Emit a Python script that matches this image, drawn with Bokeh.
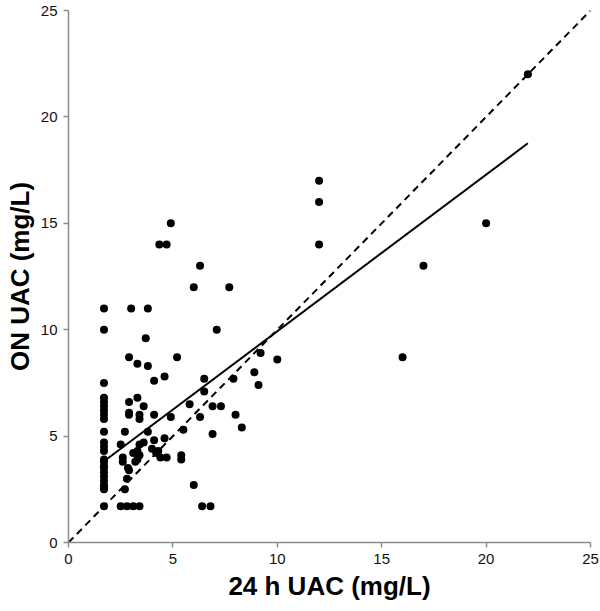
from bokeh.plotting import figure
from bokeh.models import Range1d, ColumnDataSource, FixedTicker
from bokeh.embed import file_html
from bokeh.resources import INLINE

# 24 h UAC (x) vs ON UAC (y), mg/L
x_col = [1.7] * 24
y_col = [11, 10, 7.5, 6.8, 6.6, 6.4, 6.2, 6.0, 5.8, 5.2, 4.7, 4.5, 4.3, 3.9,
         3.8, 3.6, 3.5, 3.3, 3.1, 2.9, 2.7, 2.6, 2.5, 1.7]

x_other = [3.0, 3.8, 3.7, 2.9, 3.3, 3.8, 5.2, 4.1, 4.6,
           4.9, 4.35, 4.7, 6.3, 6.0, 7.7, 7.1,
           9.2, 10.0, 8.9, 7.9, 9.1, 6.5, 6.5,
           5.8, 6.9, 7.3, 6.3, 8.0, 5.5, 6.9, 8.3, 5.4, 5.4, 6.0, 6.4, 6.8,
           12, 12, 12, 22, 20, 17, 16,
           2.9, 3.3, 3.6, 2.9, 2.9, 3.4, 3.4, 4.1, 4.9,
           2.7, 3.8,
           2.5, 3.4, 3.6, 4.1, 4.6,
           3.3, 4.0, 4.3, 4.2, 3.1, 3.4,
           4.4, 4.7,
           2.6, 2.6, 3.3, 3.2,
           2.85, 2.9, 2.8, 2.7,
           2.5, 2.8, 3.1, 3.4]
y_other = [11, 11, 9.6, 8.7, 8.4, 8.3, 8.7, 7.6, 7.8,
           15, 14, 14, 13, 12, 12, 10,
           8.9, 8.6, 8.0, 7.7, 7.4, 7.7, 7.1,
           6.5, 6.4, 6.4, 5.9, 6.0, 5.3, 5.1, 5.4, 4.1, 3.9, 2.7, 1.7, 1.7,
           17, 16, 14, 22, 15, 13, 8.7,
           6.6, 6.8, 6.4, 6.1, 6.0, 6.0, 5.8, 6.0, 5.9,
           5.2, 5.2,
           4.6, 4.6, 4.7, 4.8, 4.9,
           4.3, 4.4, 4.3, 4.2, 4.2, 4.1,
           4.0, 4.0,
           4.0, 3.8, 3.9, 3.8,
           3.5, 3.4, 3.0, 2.5,
           1.7, 1.7, 1.7, 1.7]

# regression line
reg_slope = 0.736
reg_intercept = 2.57
reg_x = [1.7, 22.0]
# identity line
ident = [0, 25]
ticks = [0, 5, 10, 15, 20, 25]

xs = x_col + x_other
ys = y_col + y_other
src = ColumnDataSource(dict(x=xs, y=ys))

p = figure(width=600, height=608, output_backend="svg", toolbar_location=None,
           x_range=Range1d(0, 25), y_range=Range1d(0, 25),
           min_border_left=68, min_border_right=10, min_border_top=10,
           min_border_bottom=66)
p.outline_line_color = None
p.xgrid.visible = False
p.ygrid.visible = False
p.background_fill_color = "white"

p.line(ident, ident, line_color="black", line_width=2, line_dash="7 5")
p.line(reg_x, [reg_slope * v + reg_intercept for v in reg_x],
       line_color="black", line_width=2)
p.scatter("x", "y", source=src, size=8, color="black", line_width=0)

for ax in (p.xaxis[0], p.yaxis[0]):
    ax.ticker = FixedTicker(ticks=ticks)
    ax.axis_line_color = "#8c8c8c"
    ax.axis_line_width = 1.5
    ax.major_tick_line_color = "#8c8c8c"
    ax.major_tick_line_width = 1.5
    ax.major_tick_out = 5
    ax.major_tick_in = 0
    ax.minor_tick_line_color = None
    ax.major_label_text_font = "Liberation Sans"
    ax.major_label_text_font_size = "15px"
    ax.major_label_text_color = "#111111"
    ax.major_label_standoff = 6
    ax.axis_label_text_font = "Liberation Sans"
    ax.axis_label_text_font_size = "26px"
    ax.axis_label_text_font_style = "bold"
    ax.axis_label_text_color = "black"

p.xaxis.axis_label = "24 h UAC (mg/L)"
p.yaxis.axis_label = "ON UAC (mg/L)"
p.xaxis.axis_label_standoff = 4
p.yaxis.axis_label_standoff = 3

open("out.html", "w").write(file_html(p, INLINE))
